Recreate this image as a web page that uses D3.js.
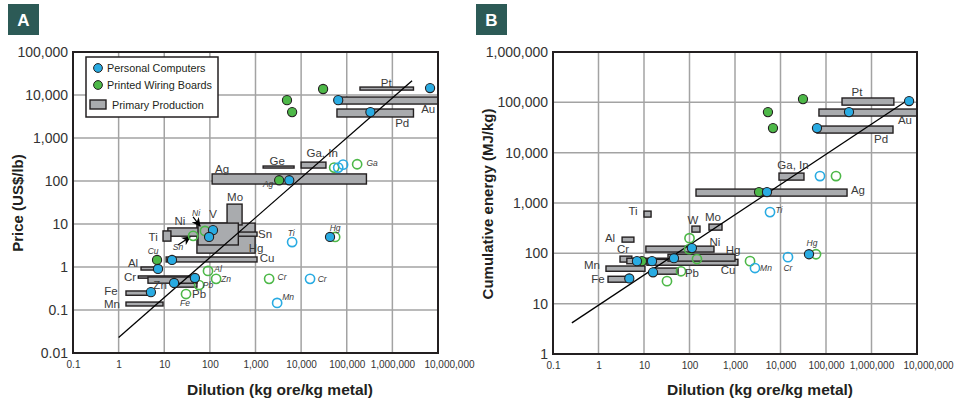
<!DOCTYPE html>
<html><head><meta charset="utf-8">
<script src="https://cdn.jsdelivr.net/npm/d3@7"></script>
<style>body{margin:0;background:#fff;} svg{display:block;font-family:"Liberation Sans",Arial,sans-serif;}</style>
</head><body><svg id="chart" width="955" height="401"></svg>
<script>
// ---------- shared ticks ----------
const xTicks = [0.1, 1, 10, 100, 1000, 1e4, 1e5, 1e6, 1e7];
const xTickLabels = ["0.1", "1", "10", "100", "1,000", "10,000", "100,000", "1,000,000", "10,000,000"];
const yTicksA = [0.01, 0.1, 1, 10, 100, 1000, 1e4, 1e5];
const yTickLabelsA = ["0.01", "0.1", "1", "10", "100", "1,000", "10,000", "100,000"];
const yTicksB = [1, 10, 100, 1000, 1e4, 1e5, 1e6];
const yTickLabelsB = ["1", "10", "100", "1,000", "10,000", "100,000", "1,000,000"];
const legendItems = ["Personal Computers", "Printed Wiring Boards", "Primary Production"];

// ---------- Panel A: price ----------
// [metal, dilution min, dilution max, price min, price max]
const barsA = [
  ["Ag", 112, 270000, 85, 146],
  ["Ge", 1470, 7000, 200, 223],
  ["Ga, In", 10000, 35000, 200, 275],
  ["Pt", 195000, 2.9e6, 13000, 15300],
  ["Au", 67000, 1e7, 6160, 8970],
  ["Pd", 61000, 2.9e6, 3080, 4720],
  ["Hg", 52, 980, 2.1, 10.5],
  ["Sn", 420, 1080, 5.2, 6.5],
  ["Ni", 12, 420, 5.2, 8.1],
  ["Ti", 9.4, 14, 4.0, 6.9],
  ["Mo", 238, 508, 9.5, 29],
  ["V", 55, 420, 3.25, 10.5],
  ["Cu", 11, 1080, 1.31, 1.71],
  ["Al", 3.1, 7.3, 0.85, 1.0],
  ["Pb", 15.6, 52, 0.34, 0.43],
  ["Cr", 2.7, 52, 0.55, 0.62],
  ["Zn", 4.4, 52, 0.42, 0.585],
  ["Fe", 1.45, 5.4, 0.22, 0.277],
  ["Mn", 1.45, 9.4, 0.124, 0.153]
];
const pcA = [[65000, 7600], [330000, 4000], [6.7e6, 14500], [5500, 104], [14.8, 1.46], [7.3, 0.9], [47, 0.555], [16.4, 0.425], [5.1, 0.26], [117, 7.2], [96, 5.0], [43000, 5.0]];
const pwbA = [[4900, 7600], [6350, 4000], [30300, 13800], [3300, 104], [6.95, 1.46]];
const openGreenA = [[53000, 205], [169000, 245], [43, 5.3], [78, 6.9], [91, 0.81], [137, 0.53], [58, 0.38], [30, 0.235], [1990, 0.53], [55700, 5.0]];
const openBlueA = [[65000, 205], [83000, 240], [15700, 0.53], [2980, 0.146], [6350, 3.8]];
const barLabelsA = [["Pt", 731000, 19000], ["Au", 6.1e6, 4720], ["Pd", 1.64e6, 2230], ["Ge", 2980, 292], ["Ga, In", 28900, 448], ["Ag", 185, 190], ["Mo", 357, 42.5], ["V", 117, 17], ["Ni", 22, 11.7], ["Ti", 5.7, 5.0], ["Sn", 1625, 5.85], ["Hg", 1030, 2.77], ["Cu", 1800, 1.62], ["Al", 2.07, 1.24], ["Cr", 1.78, 0.585], ["Zn", 8.1, 0.38], ["Fe", 0.68, 0.277], ["Mn", 0.716, 0.138], ["Pb", 58, 0.235]];
const italicLabelsA = [["Ga", 360000, 262], ["Ag", 1890, 85], ["Ni", 49.8, 18], ["Sn", 20, 2.92], ["Cu", 5.7, 2.35], ["Al", 151, 0.9], ["Zn", 226, 0.53], ["Pb", 91, 0.38], ["Fe", 28.6, 0.146], ["Cr", 3830, 0.585], ["Cr", 28900, 0.53], ["Mn", 5190, 0.2], ["Ti", 6040, 6.2], ["Hg", 55700, 8.1]];
const arrowsA = [[42.8, 14.6, 61, 8.97], [20, 3.25, 36.8, 5.0]];
const trendA = [[1, 0.023], [2.7e6, 21500]];

// ---------- Panel B: cumulative energy ----------
const barsB = [
  ["Pt", 225000, 3.1e6, 88000, 122000],
  ["Au", 70000, 1e7, 53400, 73600],
  ["Pd", 63400, 2.97e6, 24500, 33800],
  ["Ga, In", 9270, 32800, 2850, 3930],
  ["Ag", 139, 290000, 1370, 1890],
  ["Ti", 10, 14.3, 525, 690],
  ["W", 113, 170, 264, 348],
  ["Mo", 268, 518, 289, 381],
  ["Al", 3.3, 6.0, 167, 210],
  ["Ni", 11, 345, 106, 139],
  ["Cr", 2.97, 5.4, 67, 88],
  ["Zn", 4.2, 32, 62, 80],
  ["Cu", 11.6, 1160, 58, 76],
  ["Hg", 33.7, 1000, 70, 96],
  ["Mn", 1.46, 10.5, 44, 56],
  ["Pb", 15.8, 56, 38.5, 51],
  ["Fe", 1.62, 4.2, 26.7, 35]
];
const pcB = [[6.7e6, 106000], [320000, 64000], [63400, 30800], [5050, 1650], [113, 127], [45.6, 80], [15, 70], [7.0, 70], [15.8, 42], [4.75, 31.7], [42300, 96]];
const pwbB = [[31200, 116000], [5300, 64000], [6840, 30800], [3370, 1650], [9.0, 70]];
const openGreenB = [[166000, 3430], [100, 200], [98, 121], [146, 77], [65, 44], [32, 28], [2140, 70], [60300, 96]];
const openBlueB = [[73800, 3430], [5880, 660], [2750, 51], [14600, 84]];
const barLabelsB = [["Pt", 480000, 160000], ["Au", 5.45e6, 44500], ["Pd", 1.62e6, 18600], ["Ga, In", 18800, 5670], ["Ag", 505000, 1800], ["Ti", 5.73, 690], ["W", 119, 457], ["Mo", 328, 525], ["Al", 1.79, 200], ["Ni", 363, 167], ["Cr", 3.45, 121], ["Hg", 904, 116], ["Mn", 0.72, 58], ["Cu", 702, 46], ["Pb", 113, 40.4], ["Fe", 0.975, 30.7]];
const italicLabelsB = [["Ti", 9270, 722], ["Mn", 4800, 51], ["Cr", 14600, 51], ["Hg", 49200, 160]];
const trendB = [[0.26, 4.15], [6.3e6, 111000]];

// ---------- styles ----------
const BLUE = "#29abe2", GREEN = "#4db848", INK = "#231f20", BARFILL = "#a9abae", GRID = "#a3a3a3", TEAL = "#2c5a56";

const svg = d3.select("#chart");
const defs = svg.append("defs");
defs.append("marker").attr("id", "arrow").attr("viewBox", "0 0 10 10")
  .attr("refX", 9).attr("refY", 5).attr("markerWidth", 9).attr("markerHeight", 9)
  .attr("markerUnits", "userSpaceOnUse").attr("orient", "auto")
  .append("path").attr("d", "M0,0 L10,5 L0,10 L3,5 Z").attr("fill", "#000");

function drawPanel(cfg) {
  const x = d3.scaleLog().domain([0.1, 1e7]).range(cfg.xRange);
  const y = d3.scaleLog().domain(cfg.yDomain).range(cfg.yRange);
  const g = svg.append("g");
  const [L, R] = cfg.xRange, [B, T] = cfg.yRange;

  // panel letter
  g.append("rect").attr("x", cfg.boxX).attr("y", 4).attr("width", 31).attr("height", 31).attr("fill", TEAL);
  g.append("text").attr("x", cfg.boxX + 15.5).attr("y", 20).attr("text-anchor", "middle")
    .attr("dominant-baseline", "central").attr("fill", "#fff").attr("font-weight", "bold")
    .attr("font-size", 17).text(cfg.letter);

  // grid
  g.append("g").selectAll("line").data(xTicks).join("line")
    .attr("x1", d => x(d)).attr("x2", d => x(d)).attr("y1", T).attr("y2", B)
    .attr("stroke", GRID).attr("stroke-width", 1.5);
  g.append("g").selectAll("line").data(cfg.yTicks).join("line")
    .attr("x1", L).attr("x2", R).attr("y1", d => y(d)).attr("y2", d => y(d))
    .attr("stroke", GRID).attr("stroke-width", 1.5);

  // axes via d3 axis generators (labels only)
  const xAxis = d3.axisBottom(x).tickValues(xTicks).tickFormat((d, i) => xTickLabels[i]).tickSize(0).tickPadding(8);
  const xa = g.append("g").attr("transform", `translate(0,${B})`).call(xAxis);
  xa.select(".domain").remove();
  xa.selectAll("text").attr("font-size", 10).attr("fill", "#333").attr("font-family", "Liberation Sans, Arial, sans-serif")
    .attr("dx", (d, i) => i === xTicks.length - 1 ? 11 : 0);
  const yAxis = d3.axisLeft(y).tickValues(cfg.yTicks).tickFormat((d, i) => cfg.yTickLabels[i]).tickSize(0).tickPadding(5);
  const ya = g.append("g").attr("transform", `translate(${L},0)`).call(yAxis);
  ya.select(".domain").remove();
  ya.selectAll("text").attr("font-size", 14).attr("fill", "#333").attr("font-family", "Liberation Sans, Arial, sans-serif");

  // titles
  g.append("text").attr("x", cfg.xTitleX).attr("y", 389).attr("text-anchor", "middle")
    .attr("dominant-baseline", "central").attr("font-weight", "bold").attr("font-size", 15.5)
    .attr("fill", INK).text("Dilution (kg ore/kg metal)");
  g.append("text").attr("transform", `translate(${cfg.yTitleX},${cfg.yTitleY}) rotate(-90)`)
    .attr("text-anchor", "middle").attr("dominant-baseline", "central").attr("font-weight", "bold")
    .attr("font-size", 15).attr("fill", INK).text(cfg.yTitle);

  // bars
  g.append("g").selectAll("rect").data(cfg.bars).join("rect")
    .attr("x", d => x(d[1])).attr("width", d => Math.max(1, x(d[2]) - x(d[1])))
    .attr("y", d => y(d[4])).attr("height", d => Math.max(1.5, y(d[3]) - y(d[4])))
    .attr("fill", BARFILL).attr("stroke", INK).attr("stroke-width", 1.4);

  // trend line
  g.append("path").datum(cfg.trend).attr("d", d3.line().x(d => x(d[0])).y(d => y(d[1])))
    .attr("stroke", "#000").attr("stroke-width", 1.3).attr("fill", "none");

  // arrows
  if (cfg.arrows) {
    g.append("g").selectAll("line").data(cfg.arrows).join("line")
      .attr("x1", d => x(d[0])).attr("y1", d => y(d[1])).attr("x2", d => x(d[2])).attr("y2", d => y(d[3]))
      .attr("stroke", "#000").attr("stroke-width", 1.2).attr("marker-end", "url(#arrow)");
  }

  // open circles
  const openC = (data, col) => g.append("g").selectAll("circle").data(data).join("circle")
    .attr("cx", d => x(d[0])).attr("cy", d => y(d[1])).attr("r", 4.6)
    .attr("fill", "none").attr("stroke", col).attr("stroke-width", 1.6);
  openC(cfg.openGreen, GREEN);
  openC(cfg.openBlue, BLUE);
  // filled circles
  const fillC = (data, col) => g.append("g").selectAll("circle").data(data).join("circle")
    .attr("cx", d => x(d[0])).attr("cy", d => y(d[1])).attr("r", 4.6)
    .attr("fill", col).attr("stroke", INK).attr("stroke-width", 1.1);
  fillC(cfg.pwb, GREEN);
  fillC(cfg.pc, BLUE);

  // labels
  g.append("g").selectAll("text").data(cfg.barLabels).join("text")
    .attr("x", d => x(d[1])).attr("y", d => y(d[2])).attr("text-anchor", "middle")
    .attr("dominant-baseline", "central").attr("font-size", 11.5).attr("fill", "#3a3a3a").text(d => d[0]);
  g.append("g").selectAll("text").data(cfg.italicLabels).join("text")
    .attr("x", d => x(d[1])).attr("y", d => y(d[2])).attr("text-anchor", "middle")
    .attr("dominant-baseline", "central").attr("font-size", 8.5).attr("font-style", "italic")
    .attr("fill", "#3a3a3a").text(d => d[0]);

  // frame
  g.append("rect").attr("x", L).attr("y", T).attr("width", R - L).attr("height", B - T)
    .attr("fill", "none").attr("stroke", INK).attr("stroke-width", 2);
  return g;
}

const gA = drawPanel({
  letter: "A", boxX: 8, xRange: [73, 438], yDomain: [0.01, 1e5], yRange: [353, 52],
  yTicks: yTicksA, yTickLabels: yTickLabelsA, xTitleX: 280, yTitleX: 17, yTitleY: 203,
  yTitle: "Price (US$/lb)", bars: barsA, trend: trendA, arrows: arrowsA,
  pc: pcA, pwb: pwbA, openGreen: openGreenA, openBlue: openBlueA,
  barLabels: barLabelsA, italicLabels: italicLabelsA
});
drawPanel({
  letter: "B", boxX: 476, xRange: [553, 917], yDomain: [1, 1e6], yRange: [354, 52],
  yTicks: yTicksB, yTickLabels: yTickLabelsB, xTitleX: 760, yTitleX: 487, yTitleY: 204,
  yTitle: "Cumulative energy (MJ/kg)", bars: barsB, trend: trendB, arrows: null,
  pc: pcB, pwb: pwbB, openGreen: openGreenB, openBlue: openBlueB,
  barLabels: barLabelsB, italicLabels: italicLabelsB
});

// legend (panel A)
const lg = gA.append("g");
lg.append("rect").attr("x", 86).attr("y", 57).attr("width", 132).attr("height", 60)
  .attr("fill", "#fff").attr("stroke", INK).attr("stroke-width", 1.5);
lg.append("circle").attr("cx", 98).attr("cy", 68).attr("r", 4.4).attr("fill", BLUE).attr("stroke", INK).attr("stroke-width", 1);
lg.append("circle").attr("cx", 98).attr("cy", 85).attr("r", 4.4).attr("fill", GREEN).attr("stroke", INK).attr("stroke-width", 1);
lg.append("rect").attr("x", 90).attr("y", 100).attr("width", 16).attr("height", 9).attr("fill", BARFILL).attr("stroke", INK).attr("stroke-width", 1.4);
lg.selectAll("text.leg").data(legendItems).join("text").attr("class", "leg")
  .attr("x", (d, i) => i === 2 ? 112 : 107).attr("y", (d, i) => [68, 85, 104.5][i])
  .attr("dominant-baseline", "central").attr("font-size", 10.8).attr("fill", INK).text(d => d);
</script>
</body></html>
